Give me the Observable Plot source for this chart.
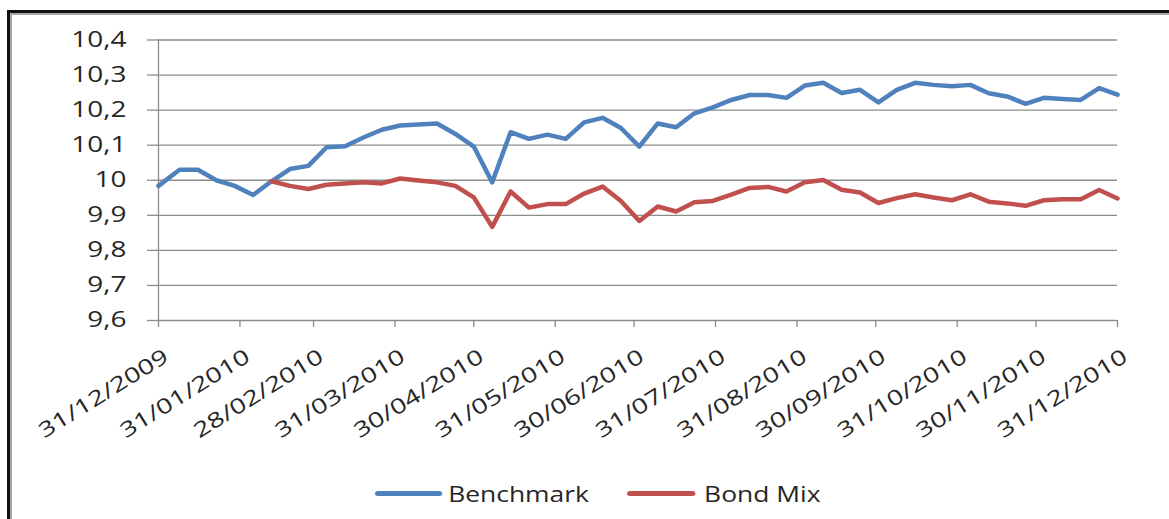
<!DOCTYPE html>
<html>
<head>
<meta charset="utf-8">
<script src="https://cdn.jsdelivr.net/npm/d3@7"></script>
<script src="https://cdn.jsdelivr.net/npm/@observablehq/plot@0.6"></script>
<style>
  html, body { margin: 0; padding: 0; background: #fff; width: 1169px; height: 519px; overflow: hidden; }
  #frame { position: absolute; left: 7px; top: 10px; width: 1250px; height: 600px;
           border-left: 3px solid #111; border-top: 3px solid #111;
           box-shadow: inset 2px 2px 0 #a8a8a8; }
  #chart { position: absolute; left: 0; top: 0; }
  #legend { position: absolute; left: 375px; top: 478px; height: 30px; display: flex; align-items: center;
            transform: scaleX(1.2); transform-origin: 0 50%;
            font-family: "Open Sans", sans-serif; font-size: 22px; color: #262626; white-space: nowrap; }
  .sw { height: 5px; border-radius: 2.5px; }
</style>
</head>
<body>
<div id="frame"></div>
<div id="chart"></div>
<div id="legend"></div>
<script>
// ---- data ----
const seriesNames = ["Benchmark", "Bond Mix"];
const seriesColors = ["#4F81BD", "#C0504D"];

const dates = [
  "31/12/2009",
  "08/01/2010","15/01/2010","22/01/2010","29/01/2010",
  "05/02/2010","12/02/2010","19/02/2010","26/02/2010",
  "05/03/2010","12/03/2010","19/03/2010","26/03/2010",
  "02/04/2010","09/04/2010","16/04/2010","23/04/2010","30/04/2010",
  "07/05/2010","14/05/2010","21/05/2010","28/05/2010",
  "04/06/2010","11/06/2010","18/06/2010","25/06/2010",
  "02/07/2010","09/07/2010","16/07/2010","23/07/2010","30/07/2010",
  "06/08/2010","13/08/2010","20/08/2010","27/08/2010",
  "03/09/2010","10/09/2010","17/09/2010","24/09/2010",
  "01/10/2010","08/10/2010","15/10/2010","22/10/2010","29/10/2010",
  "05/11/2010","12/11/2010","19/11/2010","26/11/2010",
  "03/12/2010","10/12/2010","17/12/2010","24/12/2010","31/12/2010"
];

const benchmark = [
  9.984,
  10.030, 10.030, 10.000, 9.984,
  9.958, 9.997, 10.032, 10.041,
  10.094, 10.097, 10.122, 10.144,
  10.156, 10.159, 10.162, 10.132, 10.096,
  9.994, 10.137, 10.118, 10.130,
  10.118, 10.165, 10.178, 10.149,
  10.096, 10.162, 10.151, 10.191, 10.208,
  10.229, 10.243, 10.243, 10.235,
  10.270, 10.278, 10.249, 10.258,
  10.222, 10.258, 10.278, 10.272, 10.268,
  10.272, 10.248, 10.239, 10.218,
  10.235, 10.232, 10.229, 10.263, 10.244
];

const bondMix = [
  null,
  null, null, null, null,
  null, 9.997, 9.984, 9.975,
  9.987, 9.991, 9.994, 9.991,
  10.005, 9.999, 9.994, 9.984, 9.951,
  9.867, 9.968, 9.922, 9.932,
  9.932, 9.962, 9.982, 9.941,
  9.884, 9.925, 9.911, 9.937, 9.941,
  9.959, 9.978, 9.981, 9.968,
  9.994, 10.001, 9.973, 9.965,
  9.935, 9.949, 9.960, 9.951, 9.943,
  9.960, 9.939, 9.934, 9.927,
  9.943, 9.946, 9.946, 9.972, 9.948
];

const xTickLabels = [
  "31/12/2009","31/01/2010","28/02/2010","31/03/2010","30/04/2010","31/05/2010",
  "30/06/2010","31/07/2010","31/08/2010","30/09/2010","31/10/2010","30/11/2010","31/12/2010"
];
const yTicks = [9.6, 9.7, 9.8, 9.9, 10.0, 10.1, 10.2, 10.3, 10.4];
const yTickLabels = ["9,6","9,7","9,8","9,9","10","10,1","10,2","10,3","10,4"];

// ---- build ----
const parse = d3.utcParse("%d/%m/%Y");
const rows = [];
dates.forEach((d, i) => {
  const t = parse(d);
  if (benchmark[i] != null) rows.push({date: t, value: benchmark[i], series: seriesNames[0]});
  if (bondMix[i] != null) rows.push({date: t, value: bondMix[i], series: seriesNames[1]});
});
const xTickDates = xTickLabels.map(parse);
const xLabelMap = new Map(xTickDates.map((d, i) => [+d, xTickLabels[i]]));
const yLabelMap = new Map(yTicks.map((v, i) => [v, yTickLabels[i]]));
const gridColor = "#8c8c8c";

const chart = Plot.plot({
  width: 1169,
  height: 460,
  marginLeft: 158,
  marginRight: 52,
  marginTop: 39.5,
  marginBottom: 140,
  style: {fontFamily: "'Open Sans', sans-serif", fontSize: "21px", color: "#262626", background: "transparent", overflow: "visible"},
  x: {type: "utc", domain: [xTickDates[0], xTickDates[xTickDates.length - 1]], label: null},
  y: {domain: [yTicks[0], yTicks[yTicks.length - 1]], label: null},
  color: {domain: seriesNames, range: seriesColors},
  marks: [
    Plot.ruleY(yTicks, {stroke: gridColor, strokeWidth: 1.3}),
    Plot.ruleX([xTickDates[0]], {stroke: gridColor, strokeWidth: 1.3}),
    Plot.axisY({ticks: yTicks, tickSize: 11, tickPadding: 21, stroke: gridColor, strokeWidth: 1.3,
                tickFormat: v => yLabelMap.get(v), fill: "#262626", label: null}),
    // tick marks
    Plot.axisX({ticks: xTickDates, tickSize: 7, text: null, stroke: gridColor, strokeWidth: 1.3, label: null}),
    // rotated labels
    Plot.axisX({ticks: xTickDates, tickSize: 0, tickPadding: 34, tickRotate: -32, dx: 8,
                tickFormat: d => xLabelMap.get(+d), fill: "#262626", label: null}),
    Plot.line(rows, {x: "date", y: "value", z: "series", stroke: "series", strokeWidth: 4.5,
                     strokeLinejoin: "round", strokeLinecap: "round"})
  ]
});
document.getElementById("chart").appendChild(chart);

// horizontal stretch of labels, as in the reference picture
chart.querySelectorAll('g[aria-label="y-axis tick label"] text, g[aria-label="x-axis tick label"] text')
  .forEach(t => {
    const L = t.getComputedTextLength();
    t.setAttribute("textLength", (L * 1.33).toFixed(1));
    t.setAttribute("lengthAdjust", "spacingAndGlyphs");
  });

// legend
const legend = document.getElementById("legend");
seriesNames.forEach((name, i) => {
  const sw = document.createElement("div");
  sw.className = "sw";
  sw.style.width = (i === 0 ? 56 : 57) + "px";
  sw.style.background = seriesColors[i];
  sw.style.marginRight = (i === 0 ? 5 : 7) + "px";
  const lb = document.createElement("span");
  lb.textContent = name;
  if (i === 0) lb.style.marginRight = "32px";
  legend.appendChild(sw);
  legend.appendChild(lb);
});
</script>
</body>
</html>
